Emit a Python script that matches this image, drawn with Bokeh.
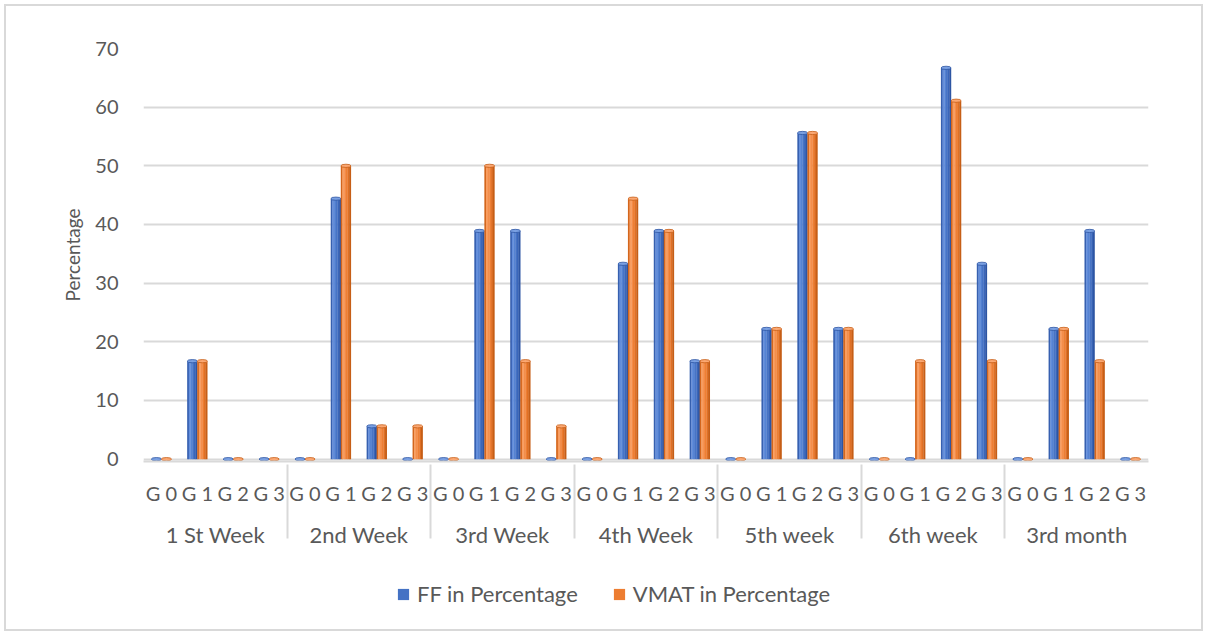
from bokeh.plotting import figure
from bokeh.models import FactorRange, Range1d, Legend, LegendItem, ColumnDataSource
from bokeh.layouts import column
from bokeh.transform import dodge
from bokeh.embed import file_html
from bokeh.resources import INLINE

weeks = ["1 St Week", "2nd Week", "3rd Week", "4th Week", "5th week", "6th week", "3rd month"]
grades = ["G 0", "G 1", "G 2", "G 3"]
ff = [0, 16.7, 0, 0,
      0, 44.4, 5.6, 0,
      0, 38.9, 38.9, 0,
      0, 33.3, 38.9, 16.7,
      0, 22.2, 55.6, 22.2,
      0, 0, 66.7, 33.3,
      0, 22.2, 38.9, 0]
vmat = [0, 16.7, 0, 0,
        0, 50.0, 5.6, 5.6,
        0, 50.0, 16.7, 5.6,
        0, 44.4, 38.9, 16.7,
        0, 22.2, 55.6, 22.2,
        0, 16.7, 61.1, 16.7,
        0, 22.2, 16.7, 0]
series_names = ["FF in Percentage", "VMAT in Percentage"]
y_ticks = [0, 10, 20, 30, 40, 50, 60, 70]

factors = [(w, g) for w in weeks for g in grades]
src = ColumnDataSource(dict(x=factors, ff=ff, vmat=vmat))

FONT = "Lato"
TXT = "#595959"
GRID = "#d9d9d9"
W = 1195

p = figure(x_range=FactorRange(*factors, factor_padding=0, group_padding=0, range_padding=0),
           y_range=Range1d(-0.4, 70),
           width=W, height=570, output_backend="svg", toolbar_location=None,
           min_border_left=137, min_border_top=42, min_border_right=53, min_border_bottom=115)
p.outline_line_color = None
p.background_fill_color = "white"

# bar shading strips (left -> right)
blue_strips = ["#3660b0", "#628ddb", "#5583d3", "#4774c6", "#3a66ba", "#2d55a3"]
orange_strips = ["#d4661c", "#f99c5e", "#f48e4b", "#ee7f34", "#e07025", "#c65e16"]
main_colors = ["#4472c4", "#ed7d31"]
bw = 0.28
n = len(blue_strips)
sw = bw / n
for col, base, colors in (("ff", -bw / 2, blue_strips), ("vmat", bw / 2, orange_strips)):
    for k, c in enumerate(colors):
        off = base - bw / 2 + sw * (k + 0.5)
        p.vbar(x=dodge("x", off, range=p.x_range), top=col, bottom=0, width=sw * 1.15,
               source=src, fill_color=c, line_color=None)
    cap = "#7aa0e2" if col == "ff" else "#fba873"
    capline = "#2d55a3" if col == "ff" else "#c65e16"
    p.ellipse(x=dodge("x", base, range=p.x_range), y=col, width=bw, height=0.55,
              source=src, fill_color=cap, line_color=capline, line_width=0.8)

p.xgrid.grid_line_color = None
p.ygrid.grid_line_color = GRID
p.ygrid.grid_line_width = 2
p.yaxis.ticker = y_ticks
p.yaxis.axis_line_color = None
p.yaxis.major_tick_line_color = None
p.yaxis.minor_tick_line_color = None
p.yaxis.major_label_standoff = 19
p.yaxis.major_label_text_font = FONT
p.yaxis.major_label_text_font_size = "20px"
p.yaxis.major_label_text_color = TXT
p.yaxis.axis_label = "Percentage"
p.yaxis.axis_label_text_font = FONT
p.yaxis.axis_label_text_font_size = "19px"
p.yaxis.axis_label_text_font_style = "normal"
p.yaxis.axis_label_text_color = TXT
p.yaxis.axis_label_standoff = 8

xa = p.xaxis[0]
xa.axis_line_color = GRID
xa.axis_line_width = 2
xa.major_tick_line_color = None
xa.minor_tick_line_color = None
xa.major_label_standoff = 13
xa.major_label_text_font = FONT
xa.major_label_text_font_size = "20px"
xa.major_label_text_color = TXT
xa.group_text_font = FONT
xa.group_text_font_size = "22px"
xa.group_text_font_style = "normal"
xa.group_text_color = TXT
xa.separator_line_color = GRID
xa.separator_line_width = 2

# legend strip below the chart
lf = figure(width=W, height=53, x_range=Range1d(0, 1), y_range=Range1d(0, 1),
            output_backend="svg", toolbar_location=None, x_axis_type=None, y_axis_type=None,
            min_border=0)
lf.outline_line_color = None
lf.xgrid.grid_line_color = None
lf.ygrid.grid_line_color = None
items = []
for name, c in zip(series_names, main_colors):
    # zero-size bar: only its legend swatch is visible
    r = lf.vbar(x=[0.5], top=[0], bottom=[0], width=0, fill_color=c, line_color=None)
    items.append(LegendItem(label=name, renderers=[r]))
legend = Legend(items=items, orientation="horizontal", location=(253, 22),
                label_text_font=FONT, label_text_font_size="22px", label_text_color=TXT,
                glyph_width=14, glyph_height=14, label_standoff=7, spacing=34,
                padding=0, margin=0, border_line_color=None, background_fill_alpha=0)
lf.add_layout(legend, "center")

layout = column(p, lf, spacing=0, margin=(4, 0, 0, 4),
                styles={"border": "2px solid #d9d9d9"})

open("out.html", "w").write(file_html(layout, INLINE))
